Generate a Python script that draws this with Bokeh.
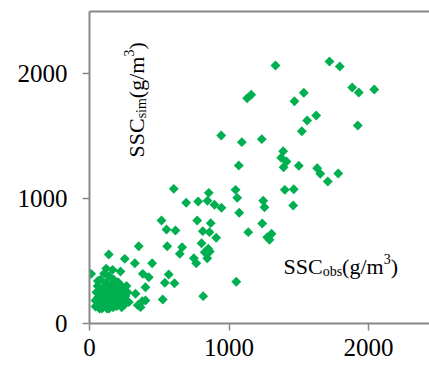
import math
from bokeh.plotting import figure
from bokeh.models import Range1d, FixedTicker, LinearAxis, Label, ColumnDataSource
from bokeh.embed import file_html
from bokeh.resources import INLINE

obs_main = [1333, 1720, 1794, 1130, 1159, 1469, 1536, 1883, 1930, 2041, 1625, 1560, 1522, 1923,
            944, 1092, 1235, 1388, 1374, 1412, 1391, 1500, 1632, 1654, 1708, 1783, 1070,
            1047, 1059, 1400, 1464, 1460, 1245, 1254, 855, 846, 779, 896, 946, 1073,
            1238, 1138, 1274, 1305, 1290, 869, 812, 860, 908, 772, 803, 851, 1052,
            604, 693, 516, 552, 616, 353, 557, 664, 647, 449, 425, 401, 568, 540, 609,
            748, 765, 826, 862, 844, 815, 525, 401,
            138, 253, 325, 12, 222, 382, 330, 366, 282, 378, 346, 270]
sim_main = [2067, 2099, 2059, 1805, 1833, 1781, 1849, 1891, 1851, 1875, 1667, 1627, 1541, 1587,
            1506, 1453, 1477, 1381, 1328, 1298, 1252, 1264, 1244, 1200, 1138, 1202, 1266,
            1071, 1007, 1071, 1076, 946, 983, 932, 1047, 983, 978, 951, 927, 887,
            801, 732, 692, 719, 671, 804, 740, 732, 687, 825, 643, 599, 334,
            1079, 967, 825, 753, 745, 619, 619, 611, 558, 483, 371, 291, 393, 326, 323,
            523, 483, 571, 577, 523, 219, 192, 184,
            553, 518, 483, 398, 417, 398, 238, 131, 171, 179, 147, 179]
obs_low = [43, 43, 50, 58, 62, 66, 72, 78, 80, 85, 90, 95, 100, 105, 108, 112, 118, 122, 126, 130,
           135, 140, 145, 150, 155, 160, 165, 170, 175, 180, 185, 190, 195, 200, 205, 210, 215, 220,
           225, 230, 238, 245, 250, 258, 265, 272, 120, 165, 60, 88, 140, 230]
sim_low = [184, 136, 250, 300, 210, 150, 120, 350, 260, 180, 220, 130, 290, 400, 160, 240, 330, 200,
           120, 270, 180, 380, 230, 150, 310, 200, 260, 130, 350, 220, 170, 290, 140, 250, 330, 190,
           280, 160, 230, 300, 200, 260, 150, 220, 300, 250, 440, 430, 340, 120, 120, 130]
ticks = [0, 1000, 2000]

GREEN = "#00B050"
GRAY = "#878787"
FONT = "Liberation Serif"

p = figure(width=429, height=367, output_backend="svg", toolbar_location=None,
           x_range=Range1d(0, 2437), y_range=Range1d(0, 2500),
           min_border_left=89, min_border_right=0, min_border_top=11, min_border_bottom=44)
p.outline_line_color = None
p.grid.visible = False
p.background_fill_color = "white"
p.border_fill_color = "white"

for ax in (p.xaxis[0], p.yaxis[0]):
    ax.ticker = FixedTicker(ticks=ticks)
    ax.axis_line_color = GRAY
    ax.axis_line_width = 2
    ax.major_tick_line_color = GRAY
    ax.major_tick_line_width = 1.5
    ax.major_tick_in = 0
    ax.major_tick_out = 7
    ax.minor_tick_line_color = None
    ax.major_label_text_font = FONT
    ax.major_label_text_font_size = "25px"
    ax.major_label_text_color = "black"
p.yaxis[0].major_label_standoff = 15
p.xaxis[0].major_label_standoff = 8

top = LinearAxis(ticker=FixedTicker(ticks=[]), axis_line_color=GRAY, axis_line_width=2,
                 major_tick_in=0, major_tick_out=0, minor_tick_line_color=None,
                 major_label_standoff=0, major_label_text_font_size="0px")
p.add_layout(top, "above")

src = ColumnDataSource(dict(x=obs_main + obs_low, y=sim_main + sim_low))
p.scatter("x", "y", source=src, marker="square", size=7, angle=math.pi / 4,
          fill_color=GREEN, line_color=None)

# rich labels built from pieces (Times-like widths)
W = {"S": 0.556, "C": 0.667, "o": 0.5, "b": 0.5, "s": 0.389, "i": 0.278, "m": 0.778,
     "(": 0.333, "g": 0.5, "/": 0.278, ")": 0.333, "3": 0.5}

def width(t, size):
    return sum(W[c] for c in t) * size

def rich(x0, y0, sub, rotated):
    big, small = 22, 14
    pieces = [("SSC", big, 0), (sub, small, -5), ("(g/m", big, 0), ("3", small, 8), (")", big, 0)]
    pos = 0.0
    for t, s, shift in pieces:
        if rotated:
            lab = Label(x=x0 - shift, y=y0 + pos, angle=math.pi / 2)
        else:
            lab = Label(x=x0 + pos, y=y0 + shift)
        lab.x_units = "screen"
        lab.y_units = "screen"
        lab.text = t
        lab.text_font = FONT
        lab.text_font_size = f"{s}px"
        lab.text_color = "black"
        lab.text_align = "left"
        lab.text_baseline = "alphabetic"
        p.add_layout(lab)
        pos += width(t, s)

rich(194, 57, "obs", False)
rich(47, 166, "sim", True)

open("out.html", "w").write(file_html(p, INLINE))
